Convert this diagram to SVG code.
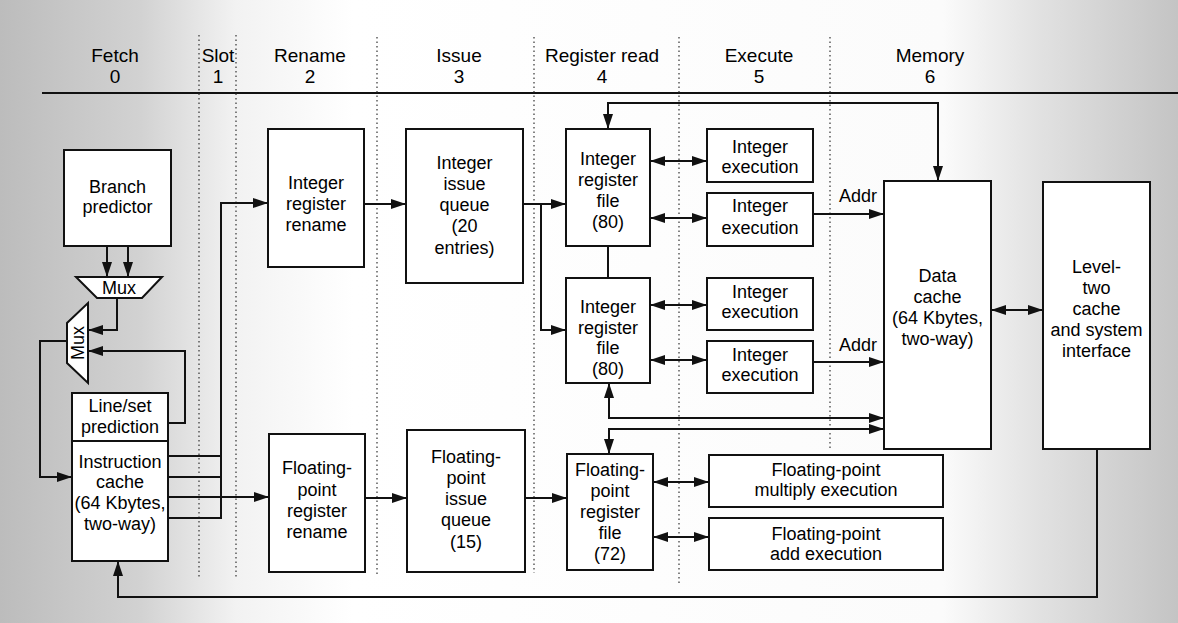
<svg xmlns="http://www.w3.org/2000/svg" width="1178" height="623" viewBox="0 0 1178 623">
<style>
.box{fill:#fff;stroke:#111;stroke-width:2}
.t{font-family:"Liberation Sans",Arial,Helvetica,sans-serif;font-size:18px;fill:#000;text-anchor:middle}
.h{font-size:19px}
.c{fill:none;stroke:#111;stroke-width:2}
.a{marker-end:url(#ah)}
.d{marker-start:url(#ah);marker-end:url(#ah)}
.dot{fill:none;stroke:#333;stroke-width:1.2;stroke-dasharray:1.5 3}
</style>
<defs>
<linearGradient id="bg" x1="0" y1="0" x2="1" y2="0">
<stop offset="0" stop-color="#bcbcbc"/>
<stop offset="0.12" stop-color="#d2d2d2"/>
<stop offset="0.2" stop-color="#f2f2f2"/>
<stop offset="0.3" stop-color="#ffffff"/>
<stop offset="0.8" stop-color="#fbfbfb"/>
<stop offset="0.88" stop-color="#e2e2e2"/>
<stop offset="1" stop-color="#c4c4c4"/>
</linearGradient>
<marker id="ah" markerUnits="userSpaceOnUse" markerWidth="15" markerHeight="10" refX="15" refY="5" orient="auto-start-reverse">
<path d="M0,0 L15,5 L0,10 z" fill="#111"/>
</marker>
</defs>
<rect x="0" y="0" width="1178" height="623" fill="url(#bg)"/>

<g id="header">
<text class="t h" x="115" y="62">Fetch</text><text class="t h" x="115" y="83">0</text>
<text class="t h" x="218" y="62">Slot</text><text class="t h" x="218" y="83">1</text>
<text class="t h" x="310" y="62">Rename</text><text class="t h" x="310" y="83">2</text>
<text class="t h" x="459" y="62">Issue</text><text class="t h" x="459" y="83">3</text>
<text class="t h" x="602" y="62">Register read</text><text class="t h" x="602" y="83">4</text>
<text class="t h" x="759" y="62">Execute</text><text class="t h" x="759" y="83">5</text>
<text class="t h" x="930" y="62">Memory</text><text class="t h" x="930" y="83">6</text>
<path d="M42,93 H1178" stroke="#111" stroke-width="2"/>
<path class="dot" d="M199,35 V577 M236,35 V577 M377,37 V577 M534,37 V573 M679,37 V583 M830,37 V448"/>
</g>

<g id="connectors">
<path class="c a" d="M107,246 V277"/>
<path class="c a" d="M128,246 V277"/>
<path class="c a" d="M117,298 V330 H88"/>
<path class="c a" d="M168,423 H185 V351 H88"/>
<path class="c a" d="M67,341 H40 V477 H72"/>
<path class="c" d="M168,456 H221 M168,477 H221"/>
<path class="c a" d="M168,518 H221 V203 H268"/>
<path class="c a" d="M168,497 H269"/>
<path class="c a" d="M364,204 H406"/>
<path class="c a" d="M365,498 H407"/>
<path class="c a" d="M523,204 H566"/>
<path class="c a" d="M541,204 V330 H566"/>
<path class="c a" d="M525,498 H567"/>
<path class="c" d="M608,246 V278"/>
<path class="c d" d="M650,161 H707"/>
<path class="c d" d="M650,218 H707"/>
<path class="c d" d="M650,305 H707"/>
<path class="c d" d="M650,360 H707"/>
<path class="c d" d="M653,482 H709"/>
<path class="c d" d="M653,537 H709"/>
<path class="c a" d="M813,214 H884"/>
<path class="c a" d="M813,362 H884"/>
<path class="c d" d="M608,129 V103 H938 V181"/>
<path class="c d" d="M609,383 V418 H884"/>
<path class="c d" d="M609,454 V429 H884"/>
<path class="c d" d="M991,310 H1043"/>
<path class="c a" d="M1097,449 V597 H118 V561"/>
<text class="t" x="858" y="202">Addr</text>
<text class="t" x="858" y="351">Addr</text>
</g>

<g id="branch-predictor">
<rect class="box" x="64" y="150" width="107" height="96"/>
<text class="t" x="117.5" y="193">Branch</text><text class="t" x="117.5" y="213">predictor</text>
</g>
<g id="mux-top">
<polygon class="box" points="76,277 162,277 142,298 97,298"/>
<text class="t" x="119" y="294">Mux</text>
</g>
<g id="mux-side">
<polygon class="box" points="88,303 88,383 67,363 67,323"/>
<text class="t" x="0" y="0" transform="translate(83.5,343) rotate(-90)">Mux</text>
</g>
<g id="instruction-cache">
<rect class="box" x="72" y="393" width="96" height="168"/>
<path d="M72,441 H168" stroke="#111" stroke-width="2"/>
<text class="t" x="120" y="412">Line/set</text><text class="t" x="120" y="433">prediction</text>
<text class="t" x="120" y="468">Instruction</text><text class="t" x="120" y="488">cache</text>
<text class="t" x="120" y="509">(64 Kbytes,</text><text class="t" x="120" y="530">two-way)</text>
</g>
<g id="int-rename">
<rect class="box" x="268" y="129" width="96" height="138"/>
<text class="t" x="316" y="189">Integer</text><text class="t" x="316" y="210">register</text><text class="t" x="316" y="231">rename</text>
</g>
<g id="fp-rename">
<rect class="box" x="269" y="434" width="96" height="138"/>
<text class="t" x="317" y="474">Floating-</text><text class="t" x="317" y="496">point</text><text class="t" x="317" y="517">register</text><text class="t" x="317" y="538">rename</text>
</g>
<g id="int-issue">
<rect class="box" x="406" y="129" width="117" height="154"/>
<text class="t" x="464.5" y="169">Integer</text><text class="t" x="464.5" y="190">issue</text><text class="t" x="464.5" y="211">queue</text><text class="t" x="464.5" y="232">(20</text><text class="t" x="464.5" y="254">entries)</text>
</g>
<g id="fp-issue">
<rect class="box" x="407" y="430" width="118" height="142"/>
<text class="t" x="466" y="463">Floating-</text><text class="t" x="466" y="484">point</text><text class="t" x="466" y="505">issue</text><text class="t" x="466" y="526">queue</text><text class="t" x="466" y="548">(15)</text>
</g>
<g id="int-regfile-1">
<rect class="box" x="566" y="129" width="84" height="117"/>
<text class="t" x="608" y="165">Integer</text><text class="t" x="608" y="186">register</text><text class="t" x="608" y="207">file</text><text class="t" x="608" y="228">(80)</text>
</g>
<g id="int-regfile-2">
<rect class="box" x="566" y="278" width="84" height="105"/>
<text class="t" x="608" y="313">Integer</text><text class="t" x="608" y="334">register</text><text class="t" x="608" y="354">file</text><text class="t" x="608" y="375">(80)</text>
</g>
<g id="fp-regfile">
<rect class="box" x="567" y="454" width="86" height="116"/>
<text class="t" x="610" y="476">Floating-</text><text class="t" x="610" y="497">point</text><text class="t" x="610" y="518">register</text><text class="t" x="610" y="539">file</text><text class="t" x="610" y="560">(72)</text>
</g>
<g id="int-exec-1">
<rect class="box" x="707" y="129" width="106" height="53"/>
<text class="t" x="760" y="153">Integer</text><text class="t" x="760" y="173">execution</text>
</g>
<g id="int-exec-2">
<rect class="box" x="707" y="193" width="106" height="53"/>
<text class="t" x="760" y="212">Integer</text><text class="t" x="760" y="234">execution</text>
</g>
<g id="int-exec-3">
<rect class="box" x="707" y="278" width="106" height="52"/>
<text class="t" x="760" y="298">Integer</text><text class="t" x="760" y="318">execution</text>
</g>
<g id="int-exec-4">
<rect class="box" x="707" y="341" width="106" height="52"/>
<text class="t" x="760" y="361">Integer</text><text class="t" x="760" y="381">execution</text>
</g>
<g id="fp-mult">
<rect class="box" x="709" y="455" width="234" height="52"/>
<text class="t" x="826" y="476">Floating-point</text><text class="t" x="826" y="496">multiply execution</text>
</g>
<g id="fp-add">
<rect class="box" x="709" y="518" width="234" height="52"/>
<text class="t" x="826" y="540">Floating-point</text><text class="t" x="826" y="560">add execution</text>
</g>
<g id="data-cache">
<rect class="box" x="884" y="181" width="107" height="268"/>
<text class="t" x="937.5" y="282">Data</text><text class="t" x="937.5" y="303">cache</text><text class="t" x="937.5" y="324">(64 Kbytes,</text><text class="t" x="937.5" y="345">two-way)</text>
</g>
<g id="level-two-cache">
<rect class="box" x="1043" y="182" width="107" height="267"/>
<text class="t" x="1096.5" y="273">Level-</text><text class="t" x="1096.5" y="294">two</text><text class="t" x="1096.5" y="315">cache</text><text class="t" x="1096.5" y="336">and system</text><text class="t" x="1096.5" y="357">interface</text>
</g>
</svg>
